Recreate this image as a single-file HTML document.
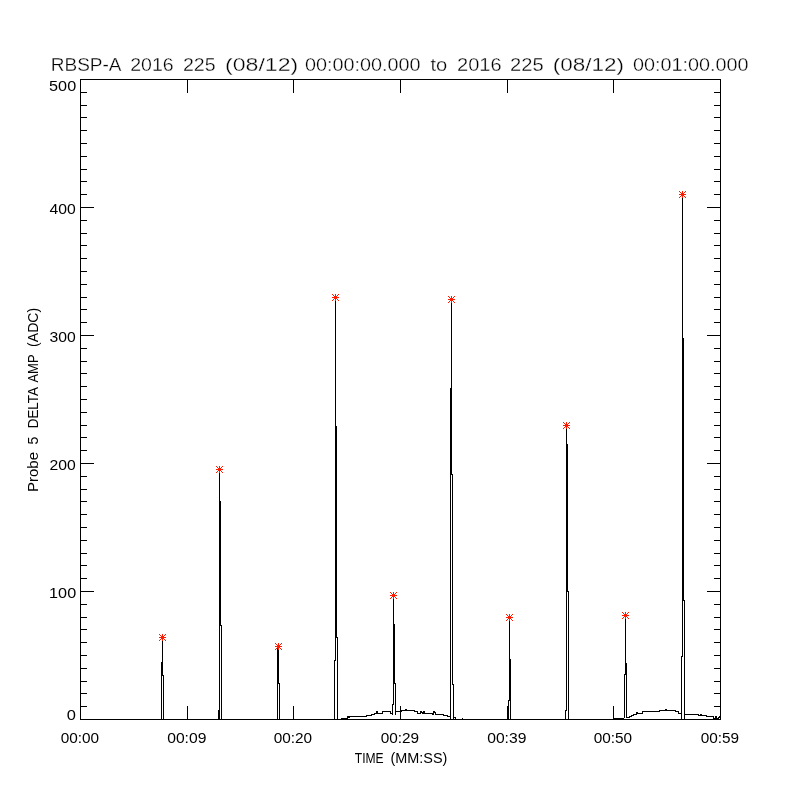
<!DOCTYPE html>
<html lang="en">
<head>
<meta charset="utf-8">
<title>RBSP-A Probe 5 Delta Amp</title>
<style>
html,body{margin:0;padding:0;background:#fff;}
body{width:800px;height:800px;overflow:hidden;}
svg{display:block;}
svg text{font-family:"Liberation Sans",sans-serif;fill:#000;}
</style>
</head>
<body>
<svg width="800" height="800" viewBox="0 0 800 800">
<rect x="0" y="0" width="800" height="800" fill="#fff"/>
<g shape-rendering="crispEdges">
<rect x="80" y="79" width="641" height="1" fill="#000"/>
<rect x="80" y="719" width="641" height="1" fill="#000"/>
<rect x="80" y="79" width="1" height="641" fill="#000"/>
<rect x="720" y="79" width="1" height="641" fill="#000"/>
<rect x="80" y="719" width="14" height="1" fill="#000"/>
<rect x="707" y="719" width="14" height="1" fill="#000"/>
<rect x="80" y="706" width="7" height="1" fill="#000"/>
<rect x="714" y="706" width="7" height="1" fill="#000"/>
<rect x="80" y="693" width="7" height="1" fill="#000"/>
<rect x="714" y="693" width="7" height="1" fill="#000"/>
<rect x="80" y="681" width="7" height="1" fill="#000"/>
<rect x="714" y="681" width="7" height="1" fill="#000"/>
<rect x="80" y="668" width="7" height="1" fill="#000"/>
<rect x="714" y="668" width="7" height="1" fill="#000"/>
<rect x="80" y="655" width="7" height="1" fill="#000"/>
<rect x="714" y="655" width="7" height="1" fill="#000"/>
<rect x="80" y="642" width="7" height="1" fill="#000"/>
<rect x="714" y="642" width="7" height="1" fill="#000"/>
<rect x="80" y="629" width="7" height="1" fill="#000"/>
<rect x="714" y="629" width="7" height="1" fill="#000"/>
<rect x="80" y="617" width="7" height="1" fill="#000"/>
<rect x="714" y="617" width="7" height="1" fill="#000"/>
<rect x="80" y="604" width="7" height="1" fill="#000"/>
<rect x="714" y="604" width="7" height="1" fill="#000"/>
<rect x="80" y="591" width="14" height="1" fill="#000"/>
<rect x="707" y="591" width="14" height="1" fill="#000"/>
<rect x="80" y="578" width="7" height="1" fill="#000"/>
<rect x="714" y="578" width="7" height="1" fill="#000"/>
<rect x="80" y="565" width="7" height="1" fill="#000"/>
<rect x="714" y="565" width="7" height="1" fill="#000"/>
<rect x="80" y="553" width="7" height="1" fill="#000"/>
<rect x="714" y="553" width="7" height="1" fill="#000"/>
<rect x="80" y="540" width="7" height="1" fill="#000"/>
<rect x="714" y="540" width="7" height="1" fill="#000"/>
<rect x="80" y="527" width="7" height="1" fill="#000"/>
<rect x="714" y="527" width="7" height="1" fill="#000"/>
<rect x="80" y="514" width="7" height="1" fill="#000"/>
<rect x="714" y="514" width="7" height="1" fill="#000"/>
<rect x="80" y="501" width="7" height="1" fill="#000"/>
<rect x="714" y="501" width="7" height="1" fill="#000"/>
<rect x="80" y="489" width="7" height="1" fill="#000"/>
<rect x="714" y="489" width="7" height="1" fill="#000"/>
<rect x="80" y="476" width="7" height="1" fill="#000"/>
<rect x="714" y="476" width="7" height="1" fill="#000"/>
<rect x="80" y="463" width="14" height="1" fill="#000"/>
<rect x="707" y="463" width="14" height="1" fill="#000"/>
<rect x="80" y="450" width="7" height="1" fill="#000"/>
<rect x="714" y="450" width="7" height="1" fill="#000"/>
<rect x="80" y="437" width="7" height="1" fill="#000"/>
<rect x="714" y="437" width="7" height="1" fill="#000"/>
<rect x="80" y="425" width="7" height="1" fill="#000"/>
<rect x="714" y="425" width="7" height="1" fill="#000"/>
<rect x="80" y="412" width="7" height="1" fill="#000"/>
<rect x="714" y="412" width="7" height="1" fill="#000"/>
<rect x="80" y="399" width="7" height="1" fill="#000"/>
<rect x="714" y="399" width="7" height="1" fill="#000"/>
<rect x="80" y="386" width="7" height="1" fill="#000"/>
<rect x="714" y="386" width="7" height="1" fill="#000"/>
<rect x="80" y="373" width="7" height="1" fill="#000"/>
<rect x="714" y="373" width="7" height="1" fill="#000"/>
<rect x="80" y="361" width="7" height="1" fill="#000"/>
<rect x="714" y="361" width="7" height="1" fill="#000"/>
<rect x="80" y="348" width="7" height="1" fill="#000"/>
<rect x="714" y="348" width="7" height="1" fill="#000"/>
<rect x="80" y="335" width="14" height="1" fill="#000"/>
<rect x="707" y="335" width="14" height="1" fill="#000"/>
<rect x="80" y="322" width="7" height="1" fill="#000"/>
<rect x="714" y="322" width="7" height="1" fill="#000"/>
<rect x="80" y="309" width="7" height="1" fill="#000"/>
<rect x="714" y="309" width="7" height="1" fill="#000"/>
<rect x="80" y="297" width="7" height="1" fill="#000"/>
<rect x="714" y="297" width="7" height="1" fill="#000"/>
<rect x="80" y="284" width="7" height="1" fill="#000"/>
<rect x="714" y="284" width="7" height="1" fill="#000"/>
<rect x="80" y="271" width="7" height="1" fill="#000"/>
<rect x="714" y="271" width="7" height="1" fill="#000"/>
<rect x="80" y="258" width="7" height="1" fill="#000"/>
<rect x="714" y="258" width="7" height="1" fill="#000"/>
<rect x="80" y="245" width="7" height="1" fill="#000"/>
<rect x="714" y="245" width="7" height="1" fill="#000"/>
<rect x="80" y="233" width="7" height="1" fill="#000"/>
<rect x="714" y="233" width="7" height="1" fill="#000"/>
<rect x="80" y="220" width="7" height="1" fill="#000"/>
<rect x="714" y="220" width="7" height="1" fill="#000"/>
<rect x="80" y="207" width="14" height="1" fill="#000"/>
<rect x="707" y="207" width="14" height="1" fill="#000"/>
<rect x="80" y="194" width="7" height="1" fill="#000"/>
<rect x="714" y="194" width="7" height="1" fill="#000"/>
<rect x="80" y="181" width="7" height="1" fill="#000"/>
<rect x="714" y="181" width="7" height="1" fill="#000"/>
<rect x="80" y="169" width="7" height="1" fill="#000"/>
<rect x="714" y="169" width="7" height="1" fill="#000"/>
<rect x="80" y="156" width="7" height="1" fill="#000"/>
<rect x="714" y="156" width="7" height="1" fill="#000"/>
<rect x="80" y="143" width="7" height="1" fill="#000"/>
<rect x="714" y="143" width="7" height="1" fill="#000"/>
<rect x="80" y="130" width="7" height="1" fill="#000"/>
<rect x="714" y="130" width="7" height="1" fill="#000"/>
<rect x="80" y="117" width="7" height="1" fill="#000"/>
<rect x="714" y="117" width="7" height="1" fill="#000"/>
<rect x="80" y="105" width="7" height="1" fill="#000"/>
<rect x="714" y="105" width="7" height="1" fill="#000"/>
<rect x="80" y="92" width="7" height="1" fill="#000"/>
<rect x="714" y="92" width="7" height="1" fill="#000"/>
<rect x="80" y="79" width="14" height="1" fill="#000"/>
<rect x="707" y="79" width="14" height="1" fill="#000"/>
<rect x="80" y="79" width="1" height="14" fill="#000"/>
<rect x="80" y="706" width="1" height="14" fill="#000"/>
<rect x="187" y="79" width="1" height="14" fill="#000"/>
<rect x="187" y="706" width="1" height="14" fill="#000"/>
<rect x="293" y="79" width="1" height="14" fill="#000"/>
<rect x="293" y="706" width="1" height="14" fill="#000"/>
<rect x="400" y="79" width="1" height="14" fill="#000"/>
<rect x="400" y="706" width="1" height="14" fill="#000"/>
<rect x="507" y="79" width="1" height="14" fill="#000"/>
<rect x="507" y="706" width="1" height="14" fill="#000"/>
<rect x="613" y="79" width="1" height="14" fill="#000"/>
<rect x="613" y="706" width="1" height="14" fill="#000"/>
<rect x="720" y="79" width="1" height="14" fill="#000"/>
<rect x="720" y="706" width="1" height="14" fill="#000"/>
<rect x="161" y="662" width="1" height="58" fill="#000"/>
<rect x="162" y="637" width="1" height="39" fill="#000"/>
<rect x="163" y="675" width="1" height="45" fill="#000"/>
<rect x="218" y="710" width="1" height="10" fill="#000"/>
<rect x="219" y="469" width="1" height="251" fill="#000"/>
<rect x="220" y="501" width="1" height="125" fill="#000"/>
<rect x="221" y="625" width="1" height="95" fill="#000"/>
<rect x="277" y="648" width="1" height="72" fill="#000"/>
<rect x="278" y="646" width="1" height="38" fill="#000"/>
<rect x="279" y="683" width="1" height="37" fill="#000"/>
<rect x="334" y="660" width="1" height="60" fill="#000"/>
<rect x="335" y="297" width="1" height="364" fill="#000"/>
<rect x="336" y="426" width="1" height="212" fill="#000"/>
<rect x="337" y="637" width="1" height="83" fill="#000"/>
<rect x="392" y="704" width="1" height="11" fill="#000"/>
<rect x="393" y="595" width="1" height="110" fill="#000"/>
<rect x="394" y="624" width="1" height="60" fill="#000"/>
<rect x="395" y="683" width="1" height="32" fill="#000"/>
<rect x="450" y="388" width="1" height="332" fill="#000"/>
<rect x="451" y="299" width="1" height="176" fill="#000"/>
<rect x="452" y="474" width="1" height="211" fill="#000"/>
<rect x="453" y="684" width="1" height="36" fill="#000"/>
<rect x="508" y="700" width="1" height="20" fill="#000"/>
<rect x="509" y="617" width="1" height="84" fill="#000"/>
<rect x="510" y="659" width="1" height="61" fill="#000"/>
<rect x="565" y="710" width="1" height="10" fill="#000"/>
<rect x="566" y="425" width="1" height="286" fill="#000"/>
<rect x="567" y="444" width="1" height="148" fill="#000"/>
<rect x="568" y="591" width="1" height="129" fill="#000"/>
<rect x="624" y="674" width="1" height="44" fill="#000"/>
<rect x="625" y="615" width="1" height="60" fill="#000"/>
<rect x="626" y="663" width="1" height="55" fill="#000"/>
<rect x="681" y="656" width="1" height="64" fill="#000"/>
<rect x="682" y="194" width="1" height="463" fill="#000"/>
<rect x="683" y="338" width="1" height="263" fill="#000"/>
<rect x="684" y="600" width="1" height="120" fill="#000"/>
<rect x="341" y="718" width="6" height="1" fill="#000"/>
<rect x="347" y="716" width="1" height="1" fill="#000"/>
<rect x="347" y="716" width="1" height="3" fill="#000"/>
<rect x="348" y="717" width="1" height="1" fill="#000"/>
<rect x="348" y="716" width="1" height="2" fill="#000"/>
<rect x="349" y="716" width="18" height="1" fill="#000"/>
<rect x="349" y="716" width="1" height="2" fill="#000"/>
<rect x="366" y="715" width="6" height="1" fill="#000"/>
<rect x="366" y="715" width="1" height="2" fill="#000"/>
<rect x="371" y="714" width="4" height="1" fill="#000"/>
<rect x="371" y="714" width="1" height="2" fill="#000"/>
<rect x="374" y="713" width="2" height="1" fill="#000"/>
<rect x="374" y="713" width="1" height="2" fill="#000"/>
<rect x="376" y="711" width="1" height="1" fill="#000"/>
<rect x="376" y="711" width="1" height="3" fill="#000"/>
<rect x="377" y="713" width="6" height="1" fill="#000"/>
<rect x="377" y="711" width="1" height="3" fill="#000"/>
<rect x="382" y="711" width="9" height="1" fill="#000"/>
<rect x="382" y="711" width="1" height="3" fill="#000"/>
<rect x="390" y="713" width="3" height="1" fill="#000"/>
<rect x="390" y="711" width="1" height="3" fill="#000"/>
<rect x="396" y="711" width="6" height="1" fill="#000"/>
<rect x="401" y="710" width="4" height="1" fill="#000"/>
<rect x="401" y="710" width="1" height="2" fill="#000"/>
<rect x="405" y="709" width="1" height="1" fill="#000"/>
<rect x="405" y="709" width="1" height="2" fill="#000"/>
<rect x="406" y="710" width="8" height="1" fill="#000"/>
<rect x="406" y="709" width="1" height="2" fill="#000"/>
<rect x="414" y="711" width="3" height="1" fill="#000"/>
<rect x="414" y="710" width="1" height="2" fill="#000"/>
<rect x="417" y="713" width="3" height="1" fill="#000"/>
<rect x="417" y="711" width="1" height="3" fill="#000"/>
<rect x="420" y="711" width="1" height="1" fill="#000"/>
<rect x="420" y="711" width="1" height="3" fill="#000"/>
<rect x="421" y="712" width="1" height="1" fill="#000"/>
<rect x="421" y="711" width="1" height="2" fill="#000"/>
<rect x="422" y="713" width="1" height="1" fill="#000"/>
<rect x="422" y="712" width="1" height="2" fill="#000"/>
<rect x="423" y="711" width="1" height="1" fill="#000"/>
<rect x="423" y="711" width="1" height="3" fill="#000"/>
<rect x="424" y="713" width="8" height="1" fill="#000"/>
<rect x="424" y="711" width="1" height="3" fill="#000"/>
<rect x="432" y="714" width="1" height="1" fill="#000"/>
<rect x="432" y="713" width="1" height="2" fill="#000"/>
<rect x="433" y="711" width="1" height="1" fill="#000"/>
<rect x="433" y="711" width="1" height="4" fill="#000"/>
<rect x="434" y="712" width="1" height="1" fill="#000"/>
<rect x="434" y="711" width="1" height="2" fill="#000"/>
<rect x="435" y="714" width="8" height="1" fill="#000"/>
<rect x="435" y="712" width="1" height="3" fill="#000"/>
<rect x="443" y="715" width="4" height="1" fill="#000"/>
<rect x="443" y="714" width="1" height="2" fill="#000"/>
<rect x="447" y="716" width="4" height="1" fill="#000"/>
<rect x="447" y="715" width="1" height="2" fill="#000"/>
<rect x="453" y="717" width="2" height="1" fill="#000"/>
<rect x="455" y="718" width="1" height="1" fill="#000"/>
<rect x="455" y="717" width="1" height="2" fill="#000"/>
<rect x="462" y="718" width="1" height="1" fill="#000"/>
<rect x="613" y="718" width="11" height="1" fill="#000"/>
<rect x="627" y="717" width="3" height="1" fill="#000"/>
<rect x="629" y="716" width="3" height="1" fill="#000"/>
<rect x="629" y="716" width="1" height="2" fill="#000"/>
<rect x="631" y="715" width="3" height="1" fill="#000"/>
<rect x="631" y="715" width="1" height="2" fill="#000"/>
<rect x="633" y="714" width="3" height="1" fill="#000"/>
<rect x="633" y="714" width="1" height="2" fill="#000"/>
<rect x="636" y="712" width="1" height="1" fill="#000"/>
<rect x="636" y="712" width="1" height="3" fill="#000"/>
<rect x="637" y="713" width="5" height="1" fill="#000"/>
<rect x="637" y="712" width="1" height="2" fill="#000"/>
<rect x="642" y="711" width="17" height="1" fill="#000"/>
<rect x="642" y="711" width="1" height="3" fill="#000"/>
<rect x="659" y="710" width="6" height="1" fill="#000"/>
<rect x="659" y="710" width="1" height="2" fill="#000"/>
<rect x="665" y="709" width="1" height="1" fill="#000"/>
<rect x="665" y="709" width="1" height="2" fill="#000"/>
<rect x="666" y="710" width="10" height="1" fill="#000"/>
<rect x="666" y="709" width="1" height="2" fill="#000"/>
<rect x="675" y="711" width="4" height="1" fill="#000"/>
<rect x="675" y="710" width="1" height="2" fill="#000"/>
<rect x="678" y="713" width="4" height="1" fill="#000"/>
<rect x="678" y="711" width="1" height="3" fill="#000"/>
<rect x="685" y="714" width="14" height="1" fill="#000"/>
<rect x="698" y="715" width="2" height="1" fill="#000"/>
<rect x="698" y="714" width="1" height="2" fill="#000"/>
<rect x="700" y="714" width="1" height="1" fill="#000"/>
<rect x="700" y="714" width="1" height="2" fill="#000"/>
<rect x="701" y="715" width="6" height="1" fill="#000"/>
<rect x="701" y="714" width="1" height="2" fill="#000"/>
<rect x="706" y="716" width="8" height="1" fill="#000"/>
<rect x="706" y="715" width="1" height="2" fill="#000"/>
<rect x="713" y="718" width="2" height="1" fill="#000"/>
<rect x="713" y="716" width="1" height="3" fill="#000"/>
<rect x="715" y="716" width="1" height="1" fill="#000"/>
<rect x="715" y="716" width="1" height="3" fill="#000"/>
<rect x="716" y="718" width="2" height="1" fill="#000"/>
<rect x="716" y="716" width="1" height="3" fill="#000"/>
<rect x="718" y="717" width="1" height="1" fill="#000"/>
<rect x="718" y="717" width="1" height="2" fill="#000"/>
<rect x="719" y="716" width="1" height="1" fill="#000"/>
<rect x="719" y="716" width="1" height="2" fill="#000"/>
<rect x="720" y="715" width="1" height="1" fill="#000"/>
<rect x="720" y="715" width="1" height="2" fill="#000"/>
<rect x="159" y="637" width="7" height="1" fill="#ff1a00"/>
<rect x="162" y="634" width="1" height="7" fill="#ff1a00"/>
<rect x="161" y="636" width="1" height="1" fill="#ff1a00"/>
<rect x="161" y="638" width="1" height="1" fill="#ff1a00"/>
<rect x="163" y="636" width="1" height="1" fill="#ff1a00"/>
<rect x="163" y="638" width="1" height="1" fill="#ff1a00"/>
<rect x="160" y="635" width="1" height="1" fill="#ff1a00"/>
<rect x="160" y="639" width="1" height="1" fill="#ff1a00"/>
<rect x="164" y="635" width="1" height="1" fill="#ff1a00"/>
<rect x="164" y="639" width="1" height="1" fill="#ff1a00"/>
<rect x="159" y="634" width="1" height="1" fill="#ff1a00"/>
<rect x="159" y="640" width="1" height="1" fill="#ff1a00"/>
<rect x="165" y="634" width="1" height="1" fill="#ff1a00"/>
<rect x="165" y="640" width="1" height="1" fill="#ff1a00"/>
<rect x="216" y="469" width="7" height="1" fill="#ff1a00"/>
<rect x="219" y="466" width="1" height="7" fill="#ff1a00"/>
<rect x="218" y="468" width="1" height="1" fill="#ff1a00"/>
<rect x="218" y="470" width="1" height="1" fill="#ff1a00"/>
<rect x="220" y="468" width="1" height="1" fill="#ff1a00"/>
<rect x="220" y="470" width="1" height="1" fill="#ff1a00"/>
<rect x="217" y="467" width="1" height="1" fill="#ff1a00"/>
<rect x="217" y="471" width="1" height="1" fill="#ff1a00"/>
<rect x="221" y="467" width="1" height="1" fill="#ff1a00"/>
<rect x="221" y="471" width="1" height="1" fill="#ff1a00"/>
<rect x="216" y="466" width="1" height="1" fill="#ff1a00"/>
<rect x="216" y="472" width="1" height="1" fill="#ff1a00"/>
<rect x="222" y="466" width="1" height="1" fill="#ff1a00"/>
<rect x="222" y="472" width="1" height="1" fill="#ff1a00"/>
<rect x="275" y="646" width="7" height="1" fill="#ff1a00"/>
<rect x="278" y="643" width="1" height="7" fill="#ff1a00"/>
<rect x="277" y="645" width="1" height="1" fill="#ff1a00"/>
<rect x="277" y="647" width="1" height="1" fill="#ff1a00"/>
<rect x="279" y="645" width="1" height="1" fill="#ff1a00"/>
<rect x="279" y="647" width="1" height="1" fill="#ff1a00"/>
<rect x="276" y="644" width="1" height="1" fill="#ff1a00"/>
<rect x="276" y="648" width="1" height="1" fill="#ff1a00"/>
<rect x="280" y="644" width="1" height="1" fill="#ff1a00"/>
<rect x="280" y="648" width="1" height="1" fill="#ff1a00"/>
<rect x="275" y="643" width="1" height="1" fill="#ff1a00"/>
<rect x="275" y="649" width="1" height="1" fill="#ff1a00"/>
<rect x="281" y="643" width="1" height="1" fill="#ff1a00"/>
<rect x="281" y="649" width="1" height="1" fill="#ff1a00"/>
<rect x="332" y="297" width="7" height="1" fill="#ff1a00"/>
<rect x="335" y="294" width="1" height="7" fill="#ff1a00"/>
<rect x="334" y="296" width="1" height="1" fill="#ff1a00"/>
<rect x="334" y="298" width="1" height="1" fill="#ff1a00"/>
<rect x="336" y="296" width="1" height="1" fill="#ff1a00"/>
<rect x="336" y="298" width="1" height="1" fill="#ff1a00"/>
<rect x="333" y="295" width="1" height="1" fill="#ff1a00"/>
<rect x="333" y="299" width="1" height="1" fill="#ff1a00"/>
<rect x="337" y="295" width="1" height="1" fill="#ff1a00"/>
<rect x="337" y="299" width="1" height="1" fill="#ff1a00"/>
<rect x="332" y="294" width="1" height="1" fill="#ff1a00"/>
<rect x="332" y="300" width="1" height="1" fill="#ff1a00"/>
<rect x="338" y="294" width="1" height="1" fill="#ff1a00"/>
<rect x="338" y="300" width="1" height="1" fill="#ff1a00"/>
<rect x="390" y="595" width="7" height="1" fill="#ff1a00"/>
<rect x="393" y="592" width="1" height="7" fill="#ff1a00"/>
<rect x="392" y="594" width="1" height="1" fill="#ff1a00"/>
<rect x="392" y="596" width="1" height="1" fill="#ff1a00"/>
<rect x="394" y="594" width="1" height="1" fill="#ff1a00"/>
<rect x="394" y="596" width="1" height="1" fill="#ff1a00"/>
<rect x="391" y="593" width="1" height="1" fill="#ff1a00"/>
<rect x="391" y="597" width="1" height="1" fill="#ff1a00"/>
<rect x="395" y="593" width="1" height="1" fill="#ff1a00"/>
<rect x="395" y="597" width="1" height="1" fill="#ff1a00"/>
<rect x="390" y="592" width="1" height="1" fill="#ff1a00"/>
<rect x="390" y="598" width="1" height="1" fill="#ff1a00"/>
<rect x="396" y="592" width="1" height="1" fill="#ff1a00"/>
<rect x="396" y="598" width="1" height="1" fill="#ff1a00"/>
<rect x="448" y="299" width="7" height="1" fill="#ff1a00"/>
<rect x="451" y="296" width="1" height="7" fill="#ff1a00"/>
<rect x="450" y="298" width="1" height="1" fill="#ff1a00"/>
<rect x="450" y="300" width="1" height="1" fill="#ff1a00"/>
<rect x="452" y="298" width="1" height="1" fill="#ff1a00"/>
<rect x="452" y="300" width="1" height="1" fill="#ff1a00"/>
<rect x="449" y="297" width="1" height="1" fill="#ff1a00"/>
<rect x="449" y="301" width="1" height="1" fill="#ff1a00"/>
<rect x="453" y="297" width="1" height="1" fill="#ff1a00"/>
<rect x="453" y="301" width="1" height="1" fill="#ff1a00"/>
<rect x="448" y="296" width="1" height="1" fill="#ff1a00"/>
<rect x="448" y="302" width="1" height="1" fill="#ff1a00"/>
<rect x="454" y="296" width="1" height="1" fill="#ff1a00"/>
<rect x="454" y="302" width="1" height="1" fill="#ff1a00"/>
<rect x="506" y="617" width="7" height="1" fill="#ff1a00"/>
<rect x="509" y="614" width="1" height="7" fill="#ff1a00"/>
<rect x="508" y="616" width="1" height="1" fill="#ff1a00"/>
<rect x="508" y="618" width="1" height="1" fill="#ff1a00"/>
<rect x="510" y="616" width="1" height="1" fill="#ff1a00"/>
<rect x="510" y="618" width="1" height="1" fill="#ff1a00"/>
<rect x="507" y="615" width="1" height="1" fill="#ff1a00"/>
<rect x="507" y="619" width="1" height="1" fill="#ff1a00"/>
<rect x="511" y="615" width="1" height="1" fill="#ff1a00"/>
<rect x="511" y="619" width="1" height="1" fill="#ff1a00"/>
<rect x="506" y="614" width="1" height="1" fill="#ff1a00"/>
<rect x="506" y="620" width="1" height="1" fill="#ff1a00"/>
<rect x="512" y="614" width="1" height="1" fill="#ff1a00"/>
<rect x="512" y="620" width="1" height="1" fill="#ff1a00"/>
<rect x="563" y="425" width="7" height="1" fill="#ff1a00"/>
<rect x="566" y="422" width="1" height="7" fill="#ff1a00"/>
<rect x="565" y="424" width="1" height="1" fill="#ff1a00"/>
<rect x="565" y="426" width="1" height="1" fill="#ff1a00"/>
<rect x="567" y="424" width="1" height="1" fill="#ff1a00"/>
<rect x="567" y="426" width="1" height="1" fill="#ff1a00"/>
<rect x="564" y="423" width="1" height="1" fill="#ff1a00"/>
<rect x="564" y="427" width="1" height="1" fill="#ff1a00"/>
<rect x="568" y="423" width="1" height="1" fill="#ff1a00"/>
<rect x="568" y="427" width="1" height="1" fill="#ff1a00"/>
<rect x="563" y="422" width="1" height="1" fill="#ff1a00"/>
<rect x="563" y="428" width="1" height="1" fill="#ff1a00"/>
<rect x="569" y="422" width="1" height="1" fill="#ff1a00"/>
<rect x="569" y="428" width="1" height="1" fill="#ff1a00"/>
<rect x="622" y="615" width="7" height="1" fill="#ff1a00"/>
<rect x="625" y="612" width="1" height="7" fill="#ff1a00"/>
<rect x="624" y="614" width="1" height="1" fill="#ff1a00"/>
<rect x="624" y="616" width="1" height="1" fill="#ff1a00"/>
<rect x="626" y="614" width="1" height="1" fill="#ff1a00"/>
<rect x="626" y="616" width="1" height="1" fill="#ff1a00"/>
<rect x="623" y="613" width="1" height="1" fill="#ff1a00"/>
<rect x="623" y="617" width="1" height="1" fill="#ff1a00"/>
<rect x="627" y="613" width="1" height="1" fill="#ff1a00"/>
<rect x="627" y="617" width="1" height="1" fill="#ff1a00"/>
<rect x="622" y="612" width="1" height="1" fill="#ff1a00"/>
<rect x="622" y="618" width="1" height="1" fill="#ff1a00"/>
<rect x="628" y="612" width="1" height="1" fill="#ff1a00"/>
<rect x="628" y="618" width="1" height="1" fill="#ff1a00"/>
<rect x="679" y="194" width="7" height="1" fill="#ff1a00"/>
<rect x="682" y="191" width="1" height="7" fill="#ff1a00"/>
<rect x="681" y="193" width="1" height="1" fill="#ff1a00"/>
<rect x="681" y="195" width="1" height="1" fill="#ff1a00"/>
<rect x="683" y="193" width="1" height="1" fill="#ff1a00"/>
<rect x="683" y="195" width="1" height="1" fill="#ff1a00"/>
<rect x="680" y="192" width="1" height="1" fill="#ff1a00"/>
<rect x="680" y="196" width="1" height="1" fill="#ff1a00"/>
<rect x="684" y="192" width="1" height="1" fill="#ff1a00"/>
<rect x="684" y="196" width="1" height="1" fill="#ff1a00"/>
<rect x="679" y="191" width="1" height="1" fill="#ff1a00"/>
<rect x="679" y="197" width="1" height="1" fill="#ff1a00"/>
<rect x="685" y="191" width="1" height="1" fill="#ff1a00"/>
<rect x="685" y="197" width="1" height="1" fill="#ff1a00"/>
</g>
<text y="71" font-size="18.0" stroke="#fff" stroke-width="0.3"><tspan x="50.75" textLength="69.7" lengthAdjust="spacingAndGlyphs">RBSP-A</tspan> <tspan x="130.25" textLength="43.5" lengthAdjust="spacingAndGlyphs">2016</tspan> <tspan x="183.0" textLength="32.6" lengthAdjust="spacingAndGlyphs">225</tspan> <tspan x="225.0" textLength="73.2" lengthAdjust="spacingAndGlyphs">(08/12)</tspan> <tspan x="305.0" textLength="115.6" lengthAdjust="spacingAndGlyphs">00:00:00.000</tspan> <tspan x="430.5" textLength="16.8" lengthAdjust="spacingAndGlyphs">to</tspan> <tspan x="457.0" textLength="44.6" lengthAdjust="spacingAndGlyphs">2016</tspan> <tspan x="510.0" textLength="33.6" lengthAdjust="spacingAndGlyphs">225</tspan> <tspan x="552.75" textLength="71.3" lengthAdjust="spacingAndGlyphs">(08/12)</tspan> <tspan x="633.0" textLength="115.6" lengthAdjust="spacingAndGlyphs">00:01:00.000</tspan></text>
<text y="91" font-size="14.8"><tspan x="49.12" textLength="27.05" lengthAdjust="spacingAndGlyphs">500</tspan></text>
<text y="214" font-size="14.8"><tspan x="49.62" textLength="26.25" lengthAdjust="spacingAndGlyphs">400</tspan></text>
<text y="342" font-size="14.8"><tspan x="49.62" textLength="26.25" lengthAdjust="spacingAndGlyphs">300</tspan></text>
<text y="470" font-size="14.8"><tspan x="49.62" textLength="26.25" lengthAdjust="spacingAndGlyphs">200</tspan></text>
<text y="598" font-size="14.8"><tspan x="49.12" textLength="27.05" lengthAdjust="spacingAndGlyphs">100</tspan></text>
<text y="720" font-size="14.8"><tspan x="66.88" textLength="9.15" lengthAdjust="spacingAndGlyphs">0</tspan></text>
<text y="743" font-size="14.8"><tspan x="60.7" textLength="38.4" lengthAdjust="spacingAndGlyphs">00:00</tspan> <tspan x="167.2" textLength="39.2" lengthAdjust="spacingAndGlyphs">00:09</tspan> <tspan x="273.7" textLength="38.4" lengthAdjust="spacingAndGlyphs">00:20</tspan> <tspan x="380.7" textLength="38.4" lengthAdjust="spacingAndGlyphs">00:29</tspan> <tspan x="487.2" textLength="39.2" lengthAdjust="spacingAndGlyphs">00:39</tspan> <tspan x="593.7" textLength="38.4" lengthAdjust="spacingAndGlyphs">00:50</tspan> <tspan x="700.7" textLength="38.4" lengthAdjust="spacingAndGlyphs">00:59</tspan></text>
<text y="763" font-size="14.8"><tspan x="354.75" textLength="28.9" lengthAdjust="spacingAndGlyphs">TIME</tspan> <tspan x="390.38" textLength="56.95" lengthAdjust="spacingAndGlyphs">(MM:SS)</tspan></text>
<text transform="translate(37.6,500) rotate(-90)" y="0" font-size="14.8"><tspan x="8.0" textLength="40.0" lengthAdjust="spacingAndGlyphs">Probe</tspan> <tspan x="55.5" textLength="7.8" lengthAdjust="spacingAndGlyphs">5</tspan> <tspan x="71.7" textLength="40.6" lengthAdjust="spacingAndGlyphs">DELTA</tspan> <tspan x="117.5" textLength="27.8" lengthAdjust="spacingAndGlyphs">AMP</tspan> <tspan x="153.12" textLength="39.05" lengthAdjust="spacingAndGlyphs">(ADC)</tspan></text>
</svg>
</body>
</html>
